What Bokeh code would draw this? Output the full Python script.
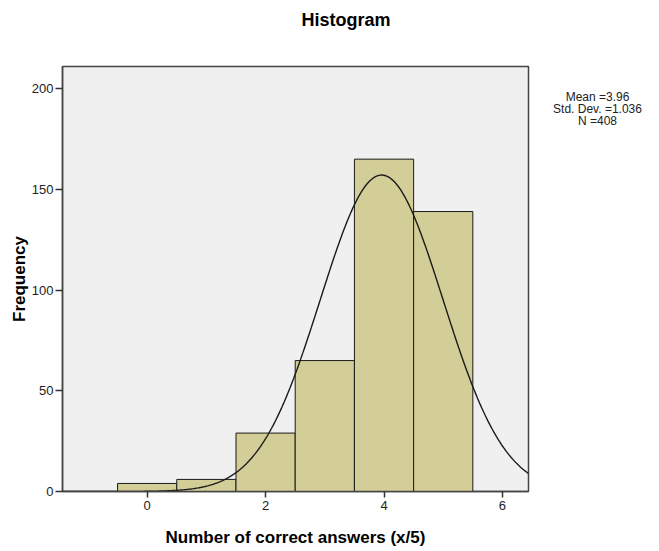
import numpy as np
from bokeh.plotting import figure
from bokeh.layouts import row, column
from bokeh.models import Range1d, FixedTicker, ColumnDataSource
from bokeh.core.properties import value
from bokeh.embed import file_html
from bokeh.resources import INLINE

# Data
categories = [0, 1, 2, 3, 4, 5]
frequencies = [4, 6, 29, 65, 165, 139]
mean_val = 3.96
std_dev = 1.036
n_total = 408
x_ticks = [0, 2, 4, 6]
y_ticks = [0, 50, 100, 150, 200]
title_text = ["Histogram"]
stats_text = ["Mean =3.96", "Std. Dev. =1.036", "N =408"]

FONT = "Liberation Sans"
X0, X1 = -1.43, 6.44
Y0, Y1 = 0, 211
LEFT, RIGHT = 62, 5
FW = 466

# Title strip (pixel coordinates, measured from the left of the plot box / top of the strip)
p0 = figure(frame_width=FW, frame_height=40, output_backend="svg", toolbar_location=None,
            title=None, x_range=Range1d(0, FW), y_range=Range1d(40, 0),
            min_border_left=LEFT, min_border_right=RIGHT, min_border_top=0, min_border_bottom=0)
p0.axis.visible = False
p0.grid.visible = False
p0.outline_line_color = None
p0.background_fill_color = "white"
p0.border_fill_color = "white"
p0.text(x=[283.5], y=[19], text=title_text, text_align="center", text_baseline="middle",
        text_font=value(FONT), text_font_size="18px", text_font_style="bold", text_color="black")

p = figure(frame_width=FW, frame_height=425, output_backend="svg", toolbar_location=None,
           title=None, x_range=Range1d(X0, X1), y_range=Range1d(Y0, Y1),
           min_border_left=LEFT, min_border_right=RIGHT, min_border_top=26, min_border_bottom=58)

p.background_fill_color = "#f0f0f0"
p.border_fill_color = "white"
p.outline_line_color = "#444444"
p.outline_line_width = 1.5
p.grid.visible = False

src = ColumnDataSource(dict(x=categories, top=frequencies))
p.vbar(x="x", top="top", bottom=0, width=1.0, source=src,
       fill_color="#d3ce97", line_color="#1a1a1a", line_width=1)

xs = np.linspace(X0, X1, 400)
ys = n_total * 1.0 * np.exp(-0.5 * ((xs - mean_val) / std_dev) ** 2) / (std_dev * np.sqrt(2 * np.pi))
p.line(xs, ys, line_color="#1a1a1a", line_width=1.4)

for ax in (p.xaxis, p.yaxis):
    ax.axis_line_color = "#444444"
    ax.axis_line_width = 1.5
    ax.major_tick_line_color = "#333333"
    ax.major_tick_line_width = 1.5
    ax.major_tick_in = 0
    ax.minor_tick_line_color = None
    ax.major_label_text_font = FONT
    ax.major_label_text_font_size = "13px"
    ax.major_label_text_color = "#222222"
    ax.axis_label_text_font = FONT
    ax.axis_label_text_font_size = "17px"
    ax.axis_label_text_font_style = "bold"
    ax.axis_label_text_color = "black"

p.xaxis.ticker = FixedTicker(ticks=x_ticks)
p.yaxis.ticker = FixedTicker(ticks=y_ticks)
p.xaxis.axis_label = "Number of correct answers (x/5)"
p.yaxis.axis_label = "Frequency"
p.xaxis.major_tick_out = 6
p.yaxis.major_tick_out = 7
p.xaxis.major_label_standoff = 3
p.xaxis.axis_label_standoff = 15
p.yaxis.major_label_standoff = 2
p.yaxis.axis_label_standoff = 0

# Side panel with summary statistics; its frame is aligned with the main frame
p2 = figure(frame_width=110, frame_height=425, output_backend="svg", toolbar_location=None,
            title=None, x_range=Range1d(0, 110), y_range=Range1d(425, 0), min_border=0)
p2.axis.visible = False
p2.grid.visible = False
p2.outline_line_color = None
p2.background_fill_color = "white"
p2.border_fill_color = "white"
# y measured in pixels below the top of the plot box
p2.text(x=[64, 64, 64], y=[30, 42, 54], text=stats_text,
        text_align="center", text_baseline="middle",
        text_font=value(FONT), text_font_size="12px", text_color="#222222")

open("out.html", "w").write(file_html(column(p0, row(p, p2)), INLINE))
